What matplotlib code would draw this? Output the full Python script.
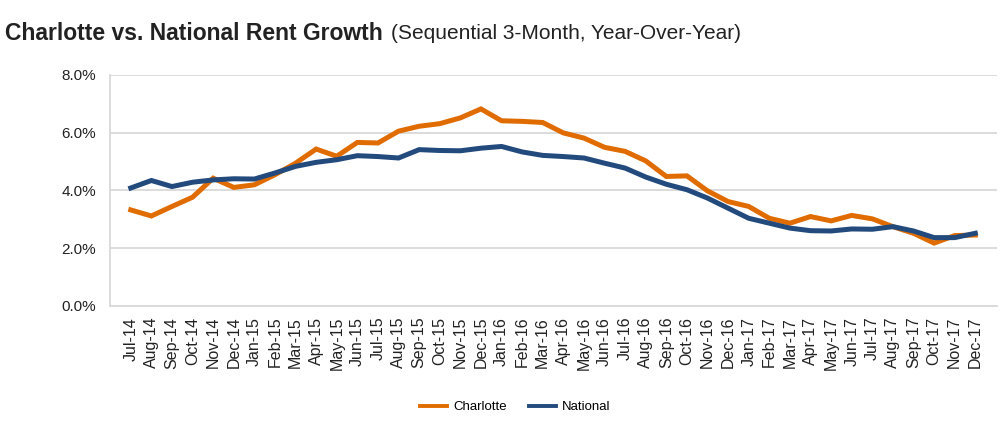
import matplotlib
matplotlib.use("Agg")
import matplotlib.pyplot as plt
from matplotlib.ticker import FuncFormatter

plt.rcParams['font.family'] = ['Liberation Sans', 'DejaVu Sans']

# months on the x axis
months = ['Jul-14', 'Aug-14', 'Sep-14', 'Oct-14', 'Nov-14', 'Dec-14',
          'Jan-15', 'Feb-15', 'Mar-15', 'Apr-15', 'May-15', 'Jun-15',
          'Jul-15', 'Aug-15', 'Sep-15', 'Oct-15', 'Nov-15', 'Dec-15',
          'Jan-16', 'Feb-16', 'Mar-16', 'Apr-16', 'May-16', 'Jun-16',
          'Jul-16', 'Aug-16', 'Sep-16', 'Oct-16', 'Nov-16', 'Dec-16',
          'Jan-17', 'Feb-17', 'Mar-17', 'Apr-17', 'May-17', 'Jun-17',
          'Jul-17', 'Aug-17', 'Sep-17', 'Oct-17', 'Nov-17', 'Dec-17']

# rent growth in percent
charlotte = [3.32, 3.11, 3.44, 3.76, 4.42, 4.10, 4.19, 4.54, 4.94, 5.43,
             5.18, 5.66, 5.64, 6.05, 6.22, 6.31, 6.51, 6.82, 6.41, 6.39,
             6.35, 5.99, 5.81, 5.49, 5.35, 5.02, 4.48, 4.50, 3.98, 3.61,
             3.44, 3.03, 2.86, 3.09, 2.94, 3.13, 3.01, 2.74, 2.51, 2.17,
             2.43, 2.45]
national = [4.08, 4.34, 4.13, 4.28, 4.36, 4.40, 4.39, 4.60, 4.83, 4.97,
            5.06, 5.20, 5.17, 5.12, 5.41, 5.38, 5.37, 5.46, 5.52, 5.33,
            5.21, 5.17, 5.12, 4.94, 4.77, 4.46, 4.21, 4.02, 3.73, 3.38,
            3.03, 2.86, 2.69, 2.60, 2.59, 2.66, 2.65, 2.74, 2.59, 2.36,
            2.36, 2.51]

orange = '#E06C00'
navy = '#234A7D'

fig = plt.figure(figsize=(10.07, 4.33), dpi=100)
ax = fig.add_axes([0.109, 0.294, 0.881, 0.533])

x = list(range(len(months)))
ax.plot(x, charlotte, color=orange, lw=3.6, label='Charlotte', solid_joinstyle='miter')
ax.plot(x, national, color=navy, lw=3.6, label='National', solid_joinstyle='miter')

ax.set_ylim(0, 8)
ax.set_yticks([0, 2, 4, 6, 8])
ax.yaxis.set_major_formatter(FuncFormatter(lambda v, p: '%.1f%%' % v))
ax.set_xlim(-1.02, 42.05)
ax.set_xticks(x)
ax.set_xticklabels(months, rotation=90)

# gridlines and frame
ax.grid(axis='y', color='#D9D9D9', lw=1.3)
ax.set_axisbelow(True)
for s in ['top', 'right']:
    ax.spines[s].set_visible(False)
ax.spines['left'].set_color('#D9D9D9')
ax.spines['bottom'].set_color('#D9D9D9')
ax.spines['left'].set_linewidth(1.3)
ax.spines['bottom'].set_linewidth(1.3)
ax.tick_params(length=0, colors='#222222')
ax.tick_params(axis='y', pad=10, labelsize=11)
ax.tick_params(axis='x', pad=8, labelsize=11.5)

leg = ax.legend(loc='center', bbox_to_anchor=(0.457, -0.44), ncol=2,
                frameon=False, fontsize=9.5, handlelength=2.05, handletextpad=0.45,
                columnspacing=1.7)
for ln in leg.get_lines():
    ln.set_linewidth(2.8)

# title in two parts: bold + regular
t1 = fig.text(0.005, 0.922, 'Charlotte vs. National Rent Growth', fontsize=16.5,
              fontweight='bold', color='#222222', va='center')
fig.canvas.draw()
bb = t1.get_window_extent()
fig.text((bb.x1 + 8) / fig.bbox.width, 0.922,
         '(Sequential 3-Month, Year-Over-Year)', fontsize=15,
         color='#222222', va='center')

fig.savefig('out.png', dpi=100)
